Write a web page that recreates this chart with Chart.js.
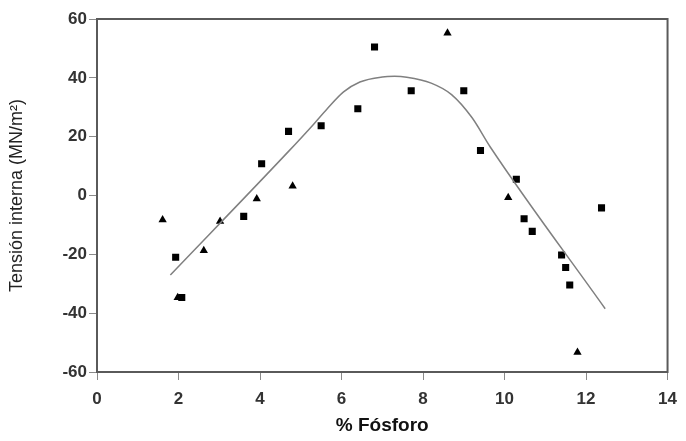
<!DOCTYPE html>
<html>
<head>
<meta charset="utf-8">
<script src="https://cdn.jsdelivr.net/npm/chart.js@4.4.0/dist/chart.umd.min.js"></script>
<style>
    html, body { margin: 0; padding: 0; background: #fff; }
</style>
</head>
<body>
<canvas id="grafico" width="686" height="441"></canvas>
<script>
// serie 1 (cuadrados)
const cuadradosX = [1.93, 2.08, 3.6, 4.04, 4.7, 5.5, 6.4, 6.81, 7.71, 9.0, 9.41, 10.29, 10.48, 10.68, 11.4, 11.5, 11.6, 12.38];
const cuadradosY = [-21, -34.7, -7.1, 10.8, 21.8, 23.7, 29.5, 50.5, 35.6, 35.6, 15.3, 5.5, -7.9, -12.2, -20.2, -24.5, -30.4, -4.2];

// serie 2 (triangulos)
const triangulosX = [1.61, 1.98, 2.62, 3.02, 3.92, 4.8, 8.6, 10.09, 11.79];
const triangulosY = [-8.3, -34.7, -18.7, -8.8, -1.1, 3.2, 55.2, -0.7, -53.3];

// curva de ajuste
const curvaX = [1.8, 4.7, 5.3, 5.65, 6.05, 6.45, 7.0, 7.3, 7.6, 8.2, 8.7, 9.2, 9.65, 12.47];
const curvaY = [-27, 15, 24, 29.5, 35.2, 38.6, 40.3, 40.5, 40.2, 38.2, 34.3, 26.5, 16.5, -38.5];

const ticksX = [0, 2, 4, 6, 8, 10, 12, 14];
const ticksY = [-60, -40, -20, 0, 20, 40, 60];

function pares(xs, ys) {
    return xs.map(function (x, i) { return { x: x, y: ys[i] }; });
}

// marco alrededor del area del grafico
const marco = {
    id: 'marco',
    afterDraw(chart) {
        const a = chart.chartArea;
        const ctx = chart.ctx;
        ctx.save();
        ctx.strokeStyle = '#5a5a5a';
        ctx.lineWidth = 2;
        ctx.strokeRect(a.left, a.top, a.right - a.left, a.bottom - a.top);
        ctx.restore();
    }
};

const ctx = document.getElementById('grafico').getContext('2d');
new Chart(ctx, {
    type: 'scatter',
    data: {
        datasets: [
            {
                label: 'Curva',
                type: 'line',
                data: pares(curvaX, curvaY),
                borderColor: '#808080',
                borderWidth: 1.5,
                pointRadius: 0,
                fill: false,
                tension: 0.4,
                cubicInterpolationMode: 'monotone'
            },
            {
                label: 'Cuadrados',
                data: pares(cuadradosX, cuadradosY),
                pointStyle: 'rect',
                pointRadius: 5,
                backgroundColor: '#000',
                borderColor: '#000',
                borderWidth: 0
            },
            {
                label: 'Triangulos',
                data: pares(triangulosX, triangulosY),
                pointStyle: 'triangle',
                pointRadius: 4.8,
                backgroundColor: '#000',
                borderColor: '#000',
                borderWidth: 0
            }
        ]
    },
    options: {
        responsive: false,
        animation: false,
        layout: {
            padding: { left: 0, top: 19, right: 4, bottom: 0 }
        },
        plugins: {
            legend: { display: false },
            tooltip: { enabled: false }
        },
        scales: {
            x: {
                type: 'linear',
                min: 0,
                max: 14,
                afterFit: function (scale) { scale.height = 69; },
                afterBuildTicks: function (scale) {
                    scale.ticks = ticksX.map(function (v) { return { value: v }; });
                },
                border: { display: false },
                grid: {
                    drawOnChartArea: false,
                    drawTicks: true,
                    tickLength: 8,
                    color: '#8a8a8a'
                },
                ticks: {
                    color: '#333',
                    padding: 9,
                    maxRotation: 0,
                    font: { family: 'Liberation Sans, Arial', size: 17, weight: 'bold' }
                },
                title: {
                    display: true,
                    text: '% Fósforo',
                    color: '#111',
                    padding: { top: 0, bottom: 4 },
                    font: { family: 'Liberation Sans, Arial', size: 19, weight: 'bold' }
                }
            },
            y: {
                type: 'linear',
                min: -60,
                max: 60,
                afterFit: function (scale) { scale.width = 97; },
                afterBuildTicks: function (scale) {
                    scale.ticks = ticksY.map(function (v) { return { value: v }; });
                },
                border: { display: false },
                grid: {
                    drawOnChartArea: false,
                    drawTicks: true,
                    tickLength: 8,
                    color: '#8a8a8a'
                },
                ticks: {
                    color: '#333',
                    padding: 2,
                    font: { family: 'Liberation Sans, Arial', size: 17, weight: 'bold' }
                },
                title: {
                    display: true,
                    text: 'Tensión interna (MN/m²)',
                    color: '#222',
                    padding: { top: 6, bottom: 0 },
                    font: { family: 'Liberation Sans, Arial', size: 18 }
                }
            }
        }
    },
    plugins: [marco]
});
</script>
</body>
</html>
